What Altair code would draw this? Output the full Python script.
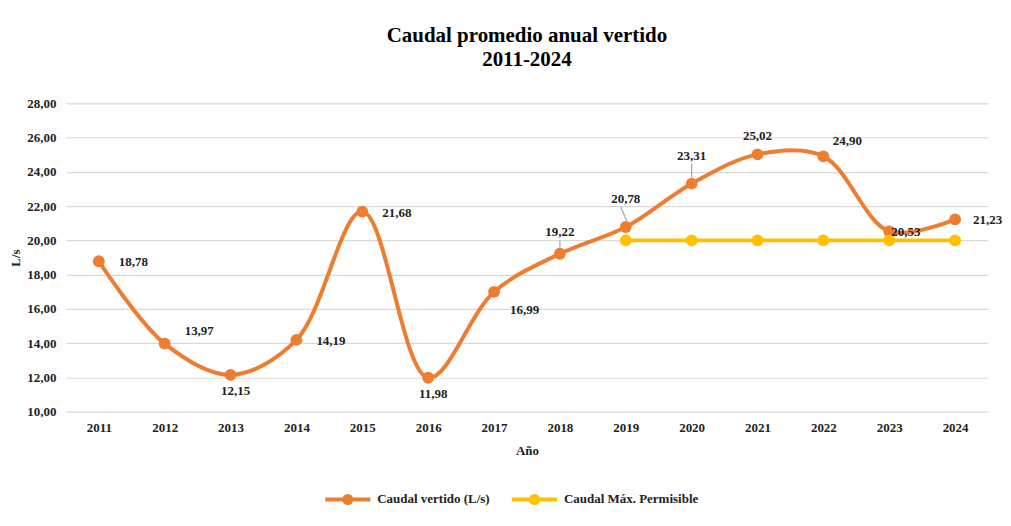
import altair as alt
import pandas as pd

years = ["2011", "2012", "2013", "2014", "2015", "2016", "2017",
         "2018", "2019", "2020", "2021", "2022", "2023", "2024"]
caudal = [18.78, 13.97, 12.15, 14.19, 21.68, 11.98, 16.99,
          19.22, 20.78, 23.31, 25.02, 24.90, 20.53, 21.23]
max_years = ["2019", "2020", "2021", "2022", "2023", "2024"]
max_vals = [20.0, 20.0, 20.0, 20.0, 20.0, 20.0]

S1 = "Caudal vertido (L/s)"
S2 = "Caudal Máx. Permisible"

df1 = pd.DataFrame({"year": years, "value": caudal, "serie": S1})
df2 = pd.DataFrame({"year": max_years, "value": max_vals, "serie": S2})
df = pd.concat([df1, df2], ignore_index=True)

FONT = "Liberation Serif"
color_scale = alt.Scale(domain=[S1, S2], range=["#ED7D31", "#FFC000"])

x_enc = alt.X("year:N", sort=years, title="Año",
              scale=alt.Scale(type="point", padding=0.5),
              axis=alt.Axis(labelAngle=0, ticks=False, domain=False,
                            labelPadding=10, titlePadding=10,
                            labelFont=FONT, labelFontSize=13, labelFontWeight="bold",
                            titleFont=FONT, titleFontSize=13, titleFontWeight="bold"))
y_enc = alt.Y("value:Q", title="L/s",
              scale=alt.Scale(domain=[10, 28], nice=False, zero=False),
              axis=alt.Axis(values=[10, 12, 14, 16, 18, 20, 22, 24, 26, 28],
                            ticks=False, domain=False, labelOverlap=False,
                            labelExpr="replace(format(datum.value, '.2f'), '.', ',')",
                            labelPadding=10, titlePadding=4,
                            labelFont=FONT, labelFontSize=13, labelFontWeight="bold",
                            titleFont=FONT, titleFontSize=13, titleFontWeight="bold",
                            gridColor="#d9d9d9", gridWidth=1.2))

legend = alt.Legend(title=None, orient="none", direction="horizontal",
                    legendX=266, legendY=380,
                    labelFont=FONT, labelFontSize=13, labelFontWeight="bold",
                    labelColor="#222", columnPadding=13, labelOffset=13,
                    symbolType="M-1.6,0L1.6,0M-0.25,0a0.25,0.25 0 1,0 0.5,0a0.25,0.25 0 1,0 -0.5,0",
                    symbolSize=800, symbolStrokeWidth=4)
color_enc = alt.Color("serie:N", scale=color_scale, legend=legend, sort=[S1, S2])

base = alt.Chart(df).encode(x=x_enc, y=y_enc)

line1 = base.transform_filter(alt.datum.serie == S1).mark_line(
    interpolate="catmull-rom", strokeWidth=4).encode(color=color_enc)
line2 = base.transform_filter(alt.datum.serie == S2).mark_line(
    strokeWidth=4).encode(color=color_enc)
pts = base.mark_point(filled=True, size=140, opacity=1).encode(color=color_enc)

lab_base = alt.Chart(df1).transform_calculate(
    label="replace(format(datum.value, '.2f'), '.', ',')"
).encode(x=x_enc, y=y_enc, text="label:N")


def sel(yrs):
    return alt.FieldOneOfPredicate(field="year", oneOf=yrs)


def labels(yrs, **kw):
    return lab_base.transform_filter(sel(yrs)).mark_text(
        font=FONT, fontSize=13, fontWeight="bold", color="#222", **kw)


def leader(yrs, **kw):
    return alt.Chart(df1).transform_filter(sel(yrs)).mark_rule(
        color="#a6a6a6", strokeWidth=1.2, **kw).encode(
        x=x_enc, y=y_enc, x2="year:N", y2="value:Q")


lbls = [
    labels(["2011", "2014", "2015"], align="left", dx=20, dy=1),
    labels(["2024"], align="left", dx=18, dy=1),
    labels(["2012"], align="left", dx=20, dy=-13),
    labels(["2017"], align="left", dx=16, dy=18),
    labels(["2018"], align="center", dy=-22),
    labels(["2019", "2020"], align="center", dy=-28),
    labels(["2021"], align="center", dy=-18),
    labels(["2022"], align="center", dx=24, dy=-15),
    labels(["2013", "2016"], align="center", dx=5, dy=16),
    labels(["2023"], align="left", dx=2, dy=1),
]
leaders = [
    leader(["2019"], xOffset=1, yOffset=-6, x2Offset=-5, y2Offset=-20),
    leader(["2020"], yOffset=-6, y2Offset=-20),
    leader(["2018"], yOffset=-6, y2Offset=-13),
]

chart = alt.layer(line2, line1, *leaders, pts, *lbls).properties(
    width=924, height=309,
    title=alt.TitleParams(text=["Caudal promedio anual vertido", "2011-2024"],
                          font=FONT, fontSize=21, fontWeight="bold", color="#000",
                          anchor="middle", offset=27, lineHeight=24),
    padding={"top": 17, "left": 1, "right": 0, "bottom": 0}
).configure_view(stroke=None).configure_axis(labelColor="#222", titleColor="#222")

chart.save("out.html", embed_options={"renderer": "svg", "actions": False})
